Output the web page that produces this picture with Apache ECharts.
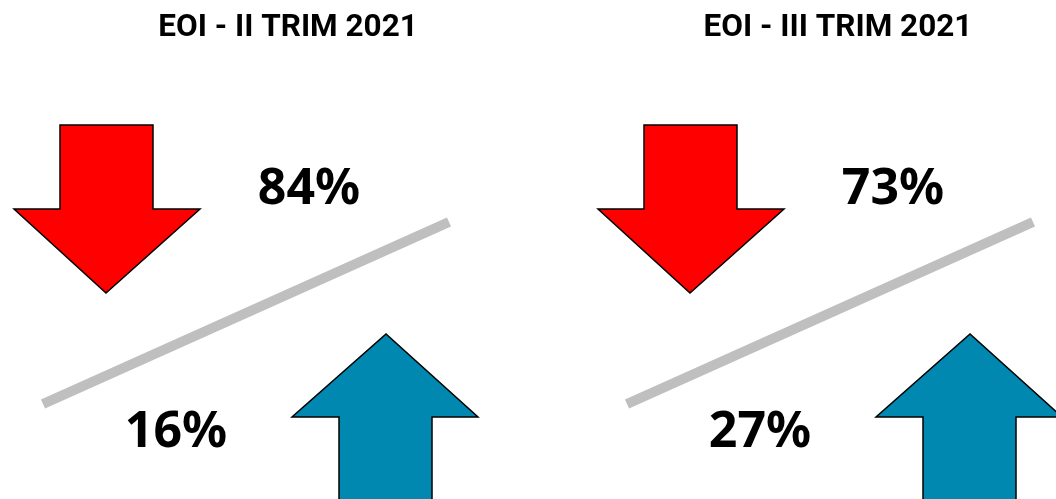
<!DOCTYPE html>
<html>
<head>
<meta charset="utf-8">
<script src="https://cdn.jsdelivr.net/npm/echarts@6/dist/echarts.min.js"></script>
<style>
  html, body { margin: 0; padding: 0; background: #fff; }
  #main { width: 1056px; height: 499px; }
</style>
</head>
<body>
<div id="main"></div>
<script>
// panels
const categories = ['EOI - II TRIM 2021', 'EOI - III TRIM 2021']
// share of answers going down / going up
const downShare = [84, 73]
const upShare = [16, 27]

const titleX = [288, 838]
const RED = '#FF0000'
const BLUE = '#0088B0'

// arrow outline, relative to panel centre (pointing down)
function downArrow(cx, cy) {
  return [
    [cx - 186, cy - 188], [cx - 93, cy - 188], [cx - 93, cy - 104],
    [cx - 46, cy - 104], [cx - 140, cy - 20], [cx - 232, cy - 104],
    [cx - 186, cy - 104]
  ]
}
function upArrow(cx, cy) {
  return [
    [cx + 186, cy + 200], [cx + 93, cy + 200], [cx + 93, cy + 104],
    [cx + 46, cy + 104], [cx + 140, cy + 21], [cx + 232, cy + 104],
    [cx + 186, cy + 104]
  ]
}

function pctText(x, y, txt) {
  return {
    type: 'text',
    x: x, y: y,
    style: {
      text: txt, fontFamily: 'Noto Sans', fontWeight: 'bold', fontSize: 50,
      fill: '#000', align: 'center', verticalAlign: 'middle'
    }
  }
}

function renderPanel(params, api) {
  var p = api.coord([api.value(0), api.value(1)])
  var cx = p[0], cy = p[1]
  return {
    type: 'group',
    children: [
      {
        type: 'line',
        shape: { x1: cx - 203, y1: cy + 91, x2: cx + 203, y2: cy - 91 },
        style: { stroke: '#BFBFBF', lineWidth: 10, lineCap: 'butt' }
      },
      {
        type: 'polygon',
        shape: { points: downArrow(cx, cy) },
        style: { fill: RED, stroke: '#000', lineWidth: 1.5 }
      },
      {
        type: 'polygon',
        shape: { points: upArrow(cx, cy) },
        style: { fill: BLUE, stroke: '#000', lineWidth: 1.5 }
      },
      pctText(cx + 63, cy - 123, api.value(2) + '%'),
      pctText(cx - 70, cy + 120, api.value(3) + '%')
    ]
  }
}

const chart = echarts.init(document.getElementById('main'))
var option = {
  animation: false,
  grid: { left: 246, right: 226, top: 213, bottom: 86 },
  xAxis: { type: 'category', data: categories, boundaryGap: false, show: false },
  yAxis: { type: 'value', min: -1, max: 1, show: false },
  graphic: categories.map(function (c, i) {
    return {
      type: 'text', x: titleX[i], y: 28,
      style: {
        text: c, fontFamily: 'Roboto', fontWeight: 'bold', fontSize: 31.5,
        fill: '#000', align: 'center', verticalAlign: 'middle'
      }
    }
  }),
  series: [{
    type: 'custom',
    clip: false,
    renderItem: renderPanel,
    data: categories.map(function (c, i) { return [i, 0, downShare[i], upShare[i]] })
  }]
}
chart.setOption(option)
</script>
</body>
</html>
